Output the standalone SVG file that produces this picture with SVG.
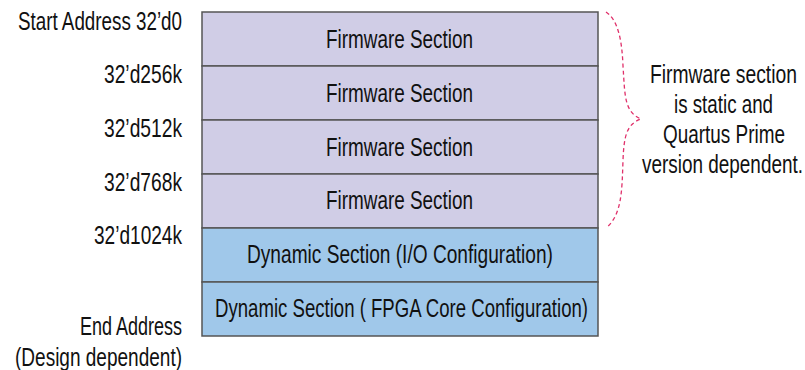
<svg xmlns="http://www.w3.org/2000/svg" width="805" height="370" viewBox="0 0 805 370">
<style>
text{font-family:"Liberation Sans",Arial,sans-serif;font-size:25px;fill:#111}
.fw{fill:#d0cde6;stroke:#555;stroke-width:1.5}
.dy{fill:#a0c8ea;stroke:#555;stroke-width:1.5}
.brace{fill:none;stroke:#e0306a;stroke-width:1.3;stroke-dasharray:4 3}
</style>
<rect width="805" height="370" fill="#fff"/>
<g id="fw1"><rect class="fw" x="202" y="12" width="396" height="54"/><text x="326" y="48" textLength="147" lengthAdjust="spacingAndGlyphs">Firmware Section</text></g>
<g id="fw2"><rect class="fw" x="202" y="66" width="396" height="54"/><text x="326" y="102" textLength="147" lengthAdjust="spacingAndGlyphs">Firmware Section</text></g>
<g id="fw3"><rect class="fw" x="202" y="120" width="396" height="54"/><text x="326" y="156" textLength="147" lengthAdjust="spacingAndGlyphs">Firmware Section</text></g>
<g id="fw4"><rect class="fw" x="202" y="174" width="396" height="54"/><text x="326" y="209" textLength="147" lengthAdjust="spacingAndGlyphs">Firmware Section</text></g>
<g id="dyn1"><rect class="dy" x="202" y="228" width="396" height="54"/><text x="247" y="263" textLength="306" lengthAdjust="spacingAndGlyphs">Dynamic Section (I/O Configuration)</text></g>
<g id="dyn2"><rect class="dy" x="202" y="282" width="396" height="54"/><text x="215" y="317" textLength="373" lengthAdjust="spacingAndGlyphs">Dynamic Section ( FPGA Core Configuration)</text></g>
<g id="labels">
<text x="18" y="30" textLength="164" lengthAdjust="spacingAndGlyphs">Start Address 32’d0</text>
<text x="104" y="83" textLength="78" lengthAdjust="spacingAndGlyphs">32’d256k</text>
<text x="104" y="137" textLength="78" lengthAdjust="spacingAndGlyphs">32’d512k</text>
<text x="104" y="191" textLength="78" lengthAdjust="spacingAndGlyphs">32’d768k</text>
<text x="94" y="244" textLength="88" lengthAdjust="spacingAndGlyphs">32’d1024k</text>
<text x="80" y="335" textLength="102" lengthAdjust="spacingAndGlyphs">End Address</text>
<text x="15" y="366" textLength="167" lengthAdjust="spacingAndGlyphs">(Design dependent)</text>
</g>
<g id="connectors">
<path class="brace" d="M606,12 C618,20 622,40 623,66 C625,95 624,112 641,119 C627,124 624,135 623,160 C622,190 622,215 606,228"/>
</g>
<g id="note">
<text x="650" y="83" textLength="147" lengthAdjust="spacingAndGlyphs">Firmware section</text>
<text x="674" y="113" textLength="99" lengthAdjust="spacingAndGlyphs">is static and</text>
<text x="663" y="143" textLength="122" lengthAdjust="spacingAndGlyphs">Quartus Prime</text>
<text x="642" y="173" textLength="161" lengthAdjust="spacingAndGlyphs">version dependent.</text>
</g>
</svg>
